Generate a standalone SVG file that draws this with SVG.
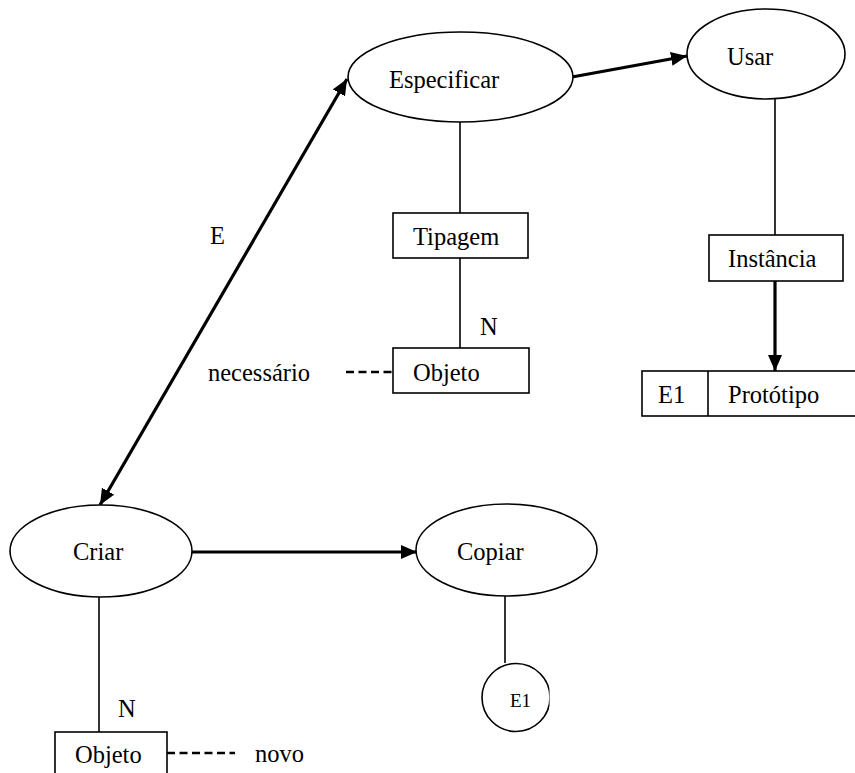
<svg xmlns="http://www.w3.org/2000/svg" width="855" height="773" viewBox="0 0 855 773" font-family="'Liberation Serif', 'DejaVu Serif', serif">
<style>
  text { font-family: 'Liberation Serif', 'Times New Roman', 'DejaVu Serif', serif; font-size: 24.5px; fill: #000; }
  .shape { fill: #fff; stroke: #000; stroke-width: 1.6; }
  .thin { stroke: #000; stroke-width: 1.6; fill: none; }
  .thick { stroke: #000; stroke-width: 3.2; fill: none; }
  .dash { stroke: #000; stroke-width: 2.6; fill: none; stroke-dasharray: 8 4.5; }
  .small { font-size: 19px; }
</style>
<defs>
  <marker id="arrow" markerUnits="userSpaceOnUse" markerWidth="18" markerHeight="14" refX="16" refY="7" orient="auto-start-reverse">
    <path d="M0,0 L16,7 L0,14 Z" fill="#000"/>
  </marker>
  <clipPath id="clipE1">
    <rect x="470" y="650" width="79.5" height="100"/>
  </clipPath>
</defs>
<rect width="855" height="773" fill="#fff"/>
<g id="connectors">
  <line class="thin" x1="460" y1="122" x2="460" y2="213"/>
  <line class="thin" x1="460" y1="258" x2="460" y2="348"/>
  <line class="thin" x1="775" y1="99" x2="775" y2="235"/>
  <line class="thin" x1="99" y1="597" x2="99" y2="732"/>
  <line class="thin" x1="505" y1="596" x2="505" y2="663"/>
  <line class="thick" x1="572" y1="77" x2="687" y2="56" marker-end="url(#arrow)"/>
  <line class="thick" x1="347" y1="79" x2="100" y2="505" marker-start="url(#arrow)" marker-end="url(#arrow)"/>
  <line class="thick" x1="188" y1="552" x2="417" y2="552" marker-end="url(#arrow)"/>
  <line class="thick" x1="775" y1="281" x2="775" y2="371" marker-end="url(#arrow)"/>
  <line class="dash" x1="346" y1="372" x2="393" y2="372"/>
  <line class="dash" x1="167" y1="753" x2="235" y2="753"/>
</g>
<g id="especificar">
  <ellipse class="shape" cx="460.5" cy="77" rx="112.5" ry="45"/>
  <text x="389" y="88">Especificar</text>
</g>
<g id="usar">
  <ellipse class="shape" cx="766" cy="54" rx="79" ry="45"/>
  <text x="727" y="65">Usar</text>
</g>
<g id="tipagem">
  <rect class="shape" x="393" y="213" width="135" height="45"/>
  <text x="413" y="245">Tipagem</text>
</g>
<g id="objeto-necessario">
  <rect class="shape" x="393" y="348" width="136" height="45"/>
  <text x="413" y="381">Objeto</text>
</g>
<g id="instancia">
  <rect class="shape" x="709" y="235" width="134" height="46"/>
  <text x="728" y="267">Instância</text>
</g>
<g id="prototipo">
  <rect class="shape" x="642" y="371" width="230" height="45"/>
  <line class="thin" x1="708" y1="371" x2="708" y2="416"/>
  <text x="658" y="403">E1</text>
  <text x="728" y="403">Protótipo</text>
</g>
<g id="criar">
  <ellipse class="shape" cx="101" cy="551" rx="91" ry="46"/>
  <text x="73" y="560">Criar</text>
</g>
<g id="copiar">
  <ellipse class="shape" cx="506.5" cy="550" rx="90.5" ry="46"/>
  <text x="457" y="560">Copiar</text>
</g>
<g id="e1-circle">
  <circle class="shape" cx="516" cy="697.5" r="34" clip-path="url(#clipE1)"/>
  <text class="small" x="510" y="707">E1</text>
</g>
<g id="objeto-novo">
  <rect class="shape" x="55" y="732" width="112" height="60"/>
  <text x="75" y="763">Objeto</text>
</g>
<g id="labels">
  <text x="210" y="244">E</text>
  <text x="480" y="335">N</text>
  <text x="208" y="381">necessário</text>
  <text x="118" y="717">N</text>
  <text x="255" y="762">novo</text>
</g>
</svg>
